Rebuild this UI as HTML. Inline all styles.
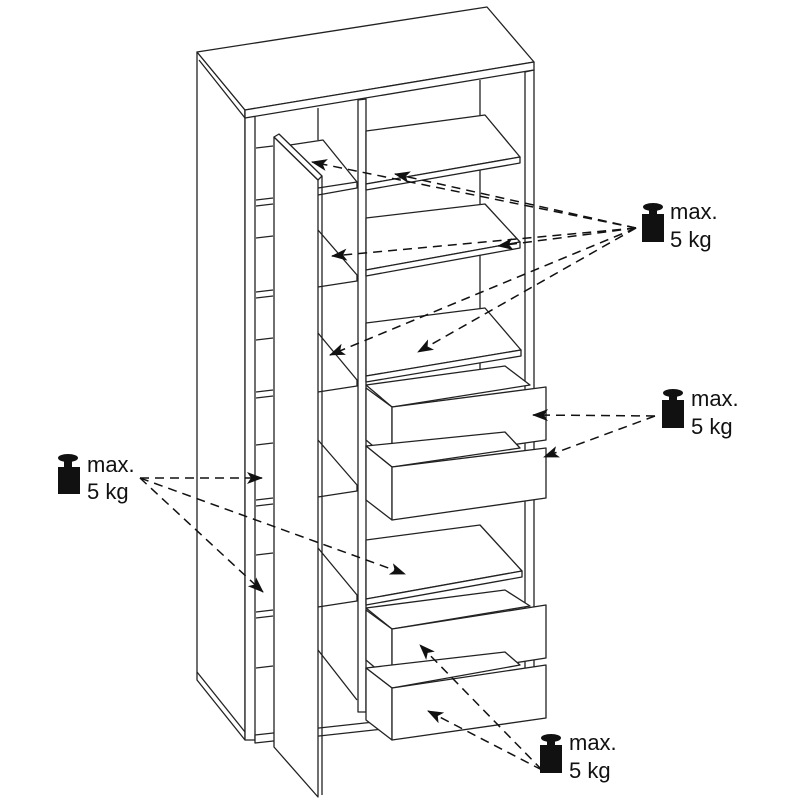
<!DOCTYPE html>
<html><head><meta charset="utf-8"><style>
html,body{margin:0;padding:0;background:#fff}
svg{display:block}
text{font-family:"Liberation Sans",sans-serif;font-size:22px;fill:#111}
</style></head><body>
<svg width="800" height="800" viewBox="0 0 800 800" xmlns="http://www.w3.org/2000/svg">
<defs>
<marker id="a" markerWidth="16" markerHeight="12" refX="15" refY="6" orient="auto" markerUnits="userSpaceOnUse">
<path d="M0,0 L16,6 L0,12 L4,6 Z" fill="#111"/></marker>
</defs>
<g fill="#fff" stroke="#222" stroke-width="1.3" stroke-linejoin="round">
<polygon points="197,52 245,110 245,740 197,680"/>
<line x1="199" y1="60" x2="245" y2="118"/>
<polygon points="245,110 255,109 255,740 245,740"/>
<line x1="197" y1="672" x2="245" y2="732"/>
<polygon points="197,52 487,7 534,62 245,110"/>
<polygon points="245,110 534,62 534,70 245,118"/>
<polygon points="525,72 534,70 534,690 525,692"/>
<line x1="480" y1="80" x2="480" y2="370"/>
<polygon points="358,100 366,99 366,712 358,712"/>
<line x1="318" y1="108" x2="318" y2="140"/>
<polygon points="255,735 392,720 392,728 255,743"/>
<g fill="none">
<polyline points="256,148 273,146"/><polyline points="256,200 273,198"/><polyline points="256,206 273,204"/>
<polyline points="256,238 273,236"/><polyline points="256,292 273,290"/><polyline points="256,298 273,296"/>
<polyline points="256,340 273,338"/><polyline points="256,392 273,390"/><polyline points="256,398 273,396"/>
<polyline points="256,445 273,443"/><polyline points="256,500 273,498"/><polyline points="256,506 273,504"/>
<polyline points="256,555 273,553"/><polyline points="256,612 273,610"/><polyline points="256,618 273,616"/>
<polyline points="256,668 273,666"/>
<polyline points="290,145 323,140 357,182 357,188 318,195"/>
<polyline points="318,188 357,182"/>
<polyline points="318,230 357,275 357,281 318,287"/>
<polyline points="318,333 357,380 357,386 318,392"/>
<polyline points="318,440 357,485 357,491 318,497"/>
<polyline points="318,548 357,595 357,601 318,607"/>
<polyline points="318,650 357,700"/>
</g>
<polygon points="366,131 485,115 520,157 366,184"/>
<polygon points="366,184 520,157 520,163 366,190"/>
<polygon points="366,218 485,204 520,242 366,270"/>
<polygon points="366,270 520,242 520,248 366,276"/>
<polygon points="366,323 485,308 521,350 366,376"/>
<polygon points="366,376 521,350 521,356 366,382"/>
<polygon points="366,540 480,525 522,571 366,599"/>
<polygon points="366,599 522,571 522,577 366,605"/>
<!-- drawers -->
<polygon points="366,385 505,366 530,385 392,407"/>
<polygon points="366,388 392,407 392,462 366,440"/>
<polygon points="392,407 546,387 546,440 392,462"/>
<polygon points="366,446 505,432 520,448 392,467"/>
<polygon points="366,446 392,467 392,520 366,500"/>
<polygon points="392,467 546,448 546,498 392,520"/>
<polygon points="366,608 505,590 530,606 392,629"/>
<polygon points="366,610 392,629 392,682 366,660"/>
<polygon points="392,629 546,605 546,658 392,682"/>
<polygon points="366,668 505,652 520,665 392,688"/>
<polygon points="366,668 392,688 392,740 366,720"/>
<polygon points="392,688 546,665 546,718 392,740"/>
<!-- door -->
<polygon points="274,137 318,180 318,797 274,747"/>
<polygon points="274,137 279,134 322,176 318,180"/>
<line x1="322" y1="176" x2="322" y2="795"/>
</g>
<g stroke="#111" stroke-width="1.5" stroke-dasharray="9,6" fill="none" marker-end="url(#a)">
<line x1="636" y1="228" x2="312" y2="162"/>
<line x1="636" y1="228" x2="395" y2="174"/>
<line x1="636" y1="228" x2="332" y2="256"/>
<line x1="636" y1="228" x2="498" y2="246"/>
<line x1="636" y1="228" x2="330" y2="355"/>
<line x1="636" y1="228" x2="418" y2="352"/>
<line x1="655" y1="416" x2="533" y2="415"/>
<line x1="655" y1="416" x2="544" y2="457"/>
<line x1="140" y1="478" x2="262" y2="478"/>
<line x1="140" y1="478" x2="405" y2="574"/>
<line x1="140" y1="478" x2="263" y2="592"/>
<line x1="542" y1="770" x2="420" y2="645"/>
<line x1="542" y1="770" x2="428" y2="711"/>
</g>
<g fill="#111">
<ellipse cx="653" cy="207" rx="10" ry="4"/><rect x="649" y="208" width="8" height="8"/><rect x="642" y="214" width="22" height="28"/>
<ellipse cx="673" cy="393" rx="10" ry="4"/><rect x="669" y="394" width="8" height="8"/><rect x="662" y="400" width="22" height="28"/>
<ellipse cx="68" cy="458" rx="10" ry="4"/><rect x="64" y="459" width="8" height="9"/><rect x="58" y="467" width="22" height="27"/>
<ellipse cx="551" cy="738" rx="10" ry="4"/><rect x="547" y="739" width="8" height="8"/><rect x="540" y="745" width="22" height="28"/>
</g>
<text x="670" y="219">max.</text><text x="670" y="247">5 kg</text>
<text x="691" y="406">max.</text><text x="691" y="434">5 kg</text>
<text x="87" y="472">max.</text><text x="87" y="499">5 kg</text>
<text x="569" y="750">max.</text><text x="569" y="778">5 kg</text>
</svg>
</body></html>
